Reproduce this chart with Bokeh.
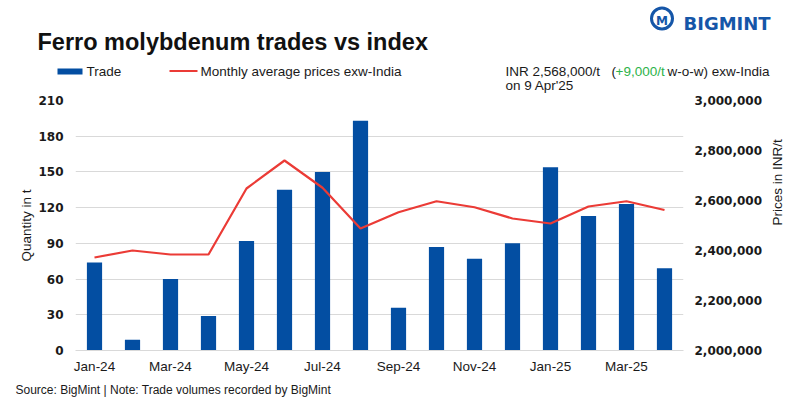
import math
from bokeh.plotting import figure
from bokeh.layouts import column
from bokeh.models import Range1d, LinearAxis, FixedTicker, NumeralTickFormatter
from bokeh.core.properties import value
from bokeh.embed import file_html
from bokeh.resources import INLINE

# ---------------- data ----------------
months = ["Jan-24", "Feb-24", "Mar-24", "Apr-24", "May-24", "Jun-24", "Jul-24", "Aug-24",
          "Sep-24", "Oct-24", "Nov-24", "Dec-24", "Jan-25", "Feb-25", "Mar-25", "Apr-25"]
trade = [74, 9, 60, 29, 92, 135, 150, 193, 36, 87, 77, 90, 154, 113, 123, 69]
price = [2372000, 2400000, 2384000, 2384000, 2648000, 2760000, 2651000, 2488000,
         2553000, 2597000, 2573000, 2528000, 2508000, 2576000, 2597000, 2562000]
left_ticks = [0, 30, 60, 90, 120, 150, 180, 210]
right_ticks = [2000000, 2200000, 2400000, 2600000, 2800000, 3000000]
label_ticks = [0, 2, 4, 6, 8, 10, 12, 14]

title_text = "Ferro molybdenum trades vs index"
legend_labels = ["Trade", "Monthly average prices exw-India"]
note_parts = ["INR 2,568,000/t", "(", "+9,000/t", "w-o-w) exw-India", "on 9 Apr'25"]
source_text = "Source: BigMint | Note: Trade volumes recorded by BigMint"

BLUE = "#034EA2"
RED = "#EB3B36"
GREEN = "#2DB34A"
GRID = "#D9D9D9"
TXT = "#1A1A1A"
LOGO = "#1556A8"
FONT = "Liberation Sans"
TICKFONT = "DejaVu Sans"

W = 800
HH, MH, FH = 95, 282, 22


def blank_fig(h):
    f = figure(width=W, height=h, x_range=Range1d(0, W), y_range=Range1d(h, 0),
               output_backend="svg", toolbar_location=None, title=None,
               x_axis_location=None, y_axis_location=None,
               min_border_left=0, min_border_right=0, min_border_top=0, min_border_bottom=0)
    f.grid.visible = False
    f.outline_line_color = None
    f.background_fill_color = "white"
    f.border_fill_color = "white"
    f.frame_align = False
    return f


def txt(f, x, y, s, size=13.5, color=TXT, style="normal", font=FONT, align="left"):
    # y is the wanted baseline; nudge up to compensate the renderer's baseline offset
    f.text(x=[x], y=[y - 0.2 * size], text=[s], text_font=value(font),
           text_font_size=f"{size}px", text_color=color, text_font_style=style,
           text_baseline="alphabetic", text_align=align)


# ---------------- header ----------------
h = blank_fig(HH)
txt(h, 37, 46, title_text, size=23.5, style="bold", color="#111111")
# legend swatches
h.quad(left=[57], right=[82], top=[68], bottom=[74], fill_color=BLUE, line_color=None)
h.segment(x0=[169], y0=[70.5], x1=[197], y1=[70.5], line_color=RED, line_width=2.2)
txt(h, 86, 74, legend_labels[0])
txt(h, 200, 74, legend_labels[1])
# price note
txt(h, 505, 74, note_parts[0])
txt(h, 611, 74, note_parts[1])
txt(h, 615, 74, note_parts[2], color=GREEN)
txt(h, 667, 74, note_parts[3])
txt(h, 505, 88, note_parts[4])
# logo
h.annulus(x=[661.5], y=[18], inner_radius=9, outer_radius=12, fill_color=LOGO, line_color=None)
txt(h, 661.5, 23, "M", size=12, color=LOGO, style="bold", font=TICKFONT, align="center")
txt(h, 683, 27, "BIGMINT", size=18, color=LOGO, style="bold", font=TICKFONT)

# ---------------- main chart ----------------
idx = list(range(len(months)))
p = figure(width=W, height=MH, x_range=Range1d(-0.5, 15.5), y_range=Range1d(0, 210),
           output_backend="svg", toolbar_location=None, title=None,
           min_border_left=75, min_border_right=117, min_border_top=5, min_border_bottom=27)
p.outline_line_color = None
p.background_fill_color = "white"
p.border_fill_color = "white"
p.frame_align = False
p.extra_y_ranges = {"price": Range1d(2000000, 3000000)}

bars = p.vbar(x=idx, top=trade, width=0.4, fill_color=BLUE, line_color=None)
line = p.line(x=idx, y=price, y_range_name="price", line_color=RED, line_width=2.2)

xa = p.xaxis[0]
xa.ticker = FixedTicker(ticks=label_ticks)
xa.major_label_overrides = {i: months[i] for i in label_ticks}
xa.axis_line_color = GRID
xa.major_tick_line_color = None
xa.minor_tick_line_color = None
xa.major_tick_out = 0
xa.major_tick_in = 0
xa.major_label_standoff = 8
xa.major_label_text_font = FONT
xa.major_label_text_font_size = "13.5px"
xa.major_label_text_color = TXT

ya = p.yaxis[0]
ya.ticker = FixedTicker(ticks=left_ticks)
ya.axis_line_color = None
ya.major_tick_line_color = None
ya.minor_tick_line_color = None
ya.major_tick_out = 0
ya.major_tick_in = 0
ya.major_label_standoff = 12
ya.major_label_text_font = TICKFONT
ya.major_label_text_font_style = "bold"
ya.major_label_text_font_size = "12px"
ya.major_label_text_color = TXT
ya.axis_label = "Quantity in t"
ya.axis_label_standoff = 1
ya.axis_label_text_font = FONT
ya.axis_label_text_font_style = "normal"
ya.axis_label_text_font_size = "13.5px"
ya.axis_label_text_color = TXT

ra = LinearAxis(y_range_name="price", ticker=FixedTicker(ticks=right_ticks),
                formatter=NumeralTickFormatter(format="0,0"))
ra.axis_line_color = None
ra.major_tick_line_color = None
ra.minor_tick_line_color = None
ra.major_tick_out = 0
ra.major_tick_in = 0
ra.major_label_standoff = 11
ra.major_label_text_font = TICKFONT
ra.major_label_text_font_style = "bold"
ra.major_label_text_font_size = "12px"
ra.major_label_text_color = TXT
ra.axis_label = "Prices in INR/t"
ra.axis_label_standoff = 12
ra.axis_label_text_font = FONT
ra.axis_label_text_font_style = "normal"
ra.axis_label_text_font_size = "13.5px"
ra.axis_label_text_color = TXT
try:
    ra.axis_label_orientation = math.pi / 2
except Exception:
    pass
p.add_layout(ra, "right")

p.ygrid.ticker = FixedTicker(ticks=left_ticks)
p.ygrid.grid_line_color = GRID
p.ygrid.grid_line_width = 1
p.xgrid.visible = False

# ---------------- footer ----------------
ft = blank_fig(FH)
txt(ft, 15, 15, source_text, size=12)

layout = column(h, p, ft, spacing=0)
open("out.html", "w").write(file_html(layout, INLINE))
